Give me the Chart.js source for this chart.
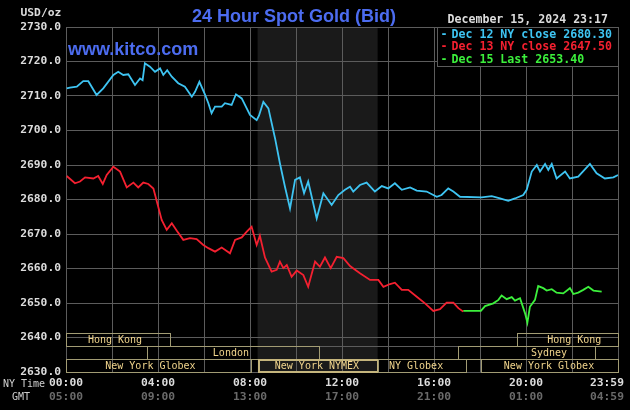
<!DOCTYPE html>
<html lang="en">
  <head>
    <meta charset="UTF-8">
    <title>24 Hour Spot Gold</title>
    <script src="https://cdn.jsdelivr.net/npm/chart.js@4.4.1/dist/chart.umd.min.js"></script>
    <style>
      html, body { margin: 0; padding: 0; background: #000; }
      canvas { display: block; }
    </style>
  </head>
  <body>
    <canvas id="goldChart" width="630" height="410"></canvas>

    <script>
      // hours after midnight NY time, price in USD/oz
      const dec12Time = [0.03, 0.17, 0.47, 0.75, 0.97, 1.33, 1.62, 2.06, 2.27, 2.49, 2.71, 3.0, 3.22, 3.33, 3.43, 3.65, 3.87, 4.09, 4.23, 4.4, 4.6, 4.88, 5.17, 5.47, 5.61, 5.8, 6.04, 6.19, 6.33, 6.48, 6.77, 6.91, 7.2, 7.39, 7.64, 8.0, 8.29, 8.39, 8.58, 8.8, 9.09, 9.3, 9.52, 9.74, 9.96, 10.17, 10.35, 10.53, 10.9, 11.19, 11.55, 11.84, 12.13, 12.35, 12.49, 12.78, 13.07, 13.43, 13.73, 14.01, 14.3, 14.6, 14.96, 15.25, 15.68, 16.12, 16.33, 16.62, 16.84, 17.13, 18.07, 18.51, 18.87, 19.23, 19.52, 19.88, 20.03, 20.25, 20.47, 20.61, 20.83, 20.97, 21.12, 21.33, 21.7, 21.91, 22.27, 22.78, 23.07, 23.43, 23.8, 24.0];
      const dec12Price = [2712.2, 2712.4, 2712.7, 2714.3, 2714.3, 2710.3, 2712.2, 2716.1, 2717.0, 2716.1, 2716.3, 2713.2, 2715.1, 2714.6, 2719.5, 2718.5, 2717.0, 2718.0, 2716.1, 2717.5, 2715.6, 2713.7, 2712.7, 2709.8, 2711.2, 2714.1, 2710.5, 2707.9, 2705.0, 2706.9, 2706.9, 2707.9, 2707.4, 2710.5, 2709.3, 2704.5, 2703.0, 2704.3, 2708.3, 2706.4, 2697.7, 2690.5, 2683.7, 2677.4, 2685.7, 2686.4, 2681.8, 2685.2, 2674.5, 2681.8, 2678.4, 2681.3, 2682.8, 2683.7, 2682.3, 2684.2, 2684.9, 2682.3, 2683.9, 2683.2, 2684.7, 2682.8, 2683.5, 2682.6, 2682.3, 2680.8, 2681.3, 2683.2, 2682.3, 2680.8, 2680.6, 2681.0, 2680.3, 2679.6, 2680.3, 2681.3, 2682.8, 2688.1, 2690.0, 2688.1, 2690.3, 2688.6, 2690.3, 2686.1, 2688.1, 2686.1, 2686.6, 2690.3, 2687.6, 2686.1, 2686.4, 2687.1];

      const dec13Time = [0.03, 0.39, 0.61, 0.83, 1.19, 1.4, 1.6, 1.77, 2.06, 2.35, 2.64, 2.93, 3.14, 3.36, 3.58, 3.8, 3.97, 4.16, 4.38, 4.6, 4.81, 5.1, 5.39, 5.68, 5.97, 6.19, 6.48, 6.77, 7.13, 7.35, 7.64, 7.86, 8.07, 8.29, 8.43, 8.65, 8.94, 9.16, 9.3, 9.45, 9.6, 9.81, 10.03, 10.32, 10.53, 10.83, 11.04, 11.26, 11.51, 11.77, 12.06, 12.35, 12.78, 13.22, 13.58, 13.8, 14.09, 14.3, 14.6, 14.88, 15.25, 15.61, 15.97, 16.26, 16.55, 16.84, 17.06, 17.27];
      const dec13Price = [2686.8, 2684.7, 2685.2, 2686.4, 2686.1, 2686.8, 2684.5, 2687.1, 2689.5, 2688.1, 2683.5, 2684.9, 2683.5, 2684.9, 2684.5, 2683.2, 2678.9, 2674.1, 2671.2, 2673.1, 2671.0, 2668.3, 2668.8, 2668.5, 2666.8, 2665.9, 2664.9, 2666.1, 2664.4, 2668.3, 2669.0, 2670.7, 2672.1, 2666.8, 2669.5, 2663.2, 2659.1, 2659.6, 2662.0, 2660.1, 2661.0, 2657.6, 2659.4, 2658.1, 2654.7, 2662.0, 2660.5, 2663.2, 2660.1, 2663.4, 2663.0, 2660.7, 2658.6, 2656.7, 2656.7, 2654.7, 2655.5, 2655.9, 2653.8, 2653.8, 2651.8, 2649.9, 2647.7, 2648.2, 2650.1, 2650.1, 2648.5, 2647.5];

      const dec15Time = [17.27, 18.04, 18.22, 18.58, 18.8, 18.94, 19.16, 19.38, 19.52, 19.74, 19.96, 20.06, 20.17, 20.39, 20.53, 20.75, 20.9, 21.12, 21.33, 21.62, 21.91, 22.06, 22.27, 22.49, 22.71, 22.93, 23.29];
      const dec15Price = [2647.7, 2647.7, 2649.1, 2649.9, 2650.9, 2652.2, 2651.1, 2651.7, 2650.7, 2651.4, 2647.0, 2644.3, 2648.9, 2650.9, 2654.9, 2654.3, 2653.6, 2654.0, 2653.0, 2652.8, 2654.3, 2652.6, 2653.0, 2653.8, 2654.7, 2653.6, 2653.3];

      const seriesNames = ['Dec 12 NY close 2680.30', 'Dec 13 NY close 2647.50', 'Dec 15 Last 2653.40'];
      const seriesColors = ['#3ec4f2', '#f42030', '#3cf03c'];

      // x tick labels (last one is pulled in so it fits)
      const labelHours = [0, 4, 8, 12, 16, 20, 23.52];
      const nyLabels = ['00:00', '04:00', '08:00', '12:00', '16:00', '20:00', '23:59'];
      const gmtLabels = ['05:00', '09:00', '13:00', '17:00', '21:00', '01:00', '04:59'];

      // trading sessions along the bottom
      const sessionNames = ['Hong Kong', 'Hong Kong', 'London', 'Sydney', 'New York Globex', 'New York NYMEX', 'NY Globex', 'New York Globex'];
      const sessionStart = [0, 19.6, 3.5, 17.05, 0, 8.33, 13.55, 18.05];
      const sessionEnd = [4.5, 24, 11.0, 23.02, 8.05, 13.55, 17.4, 24];
      const sessionRow = [0, 0, 1, 1, 2, 2, 2, 2];
      const sessionLabelAt = [2.13, 22.1, 7.17, 21.0, 3.67, 10.91, 15.22, 21.0];
      const nymexOpen = [8.33, 13.55];

      const GRID = '#5c5c5c';
      const MONO = '"DejaVu Sans Mono", monospace';

      function points(t, p) {
        return t.map((h, i) => ({ x: h, y: p[i] }));
      }

      const kitcoPlugin = {
        id: 'kitco',
        beforeDraw(chart) {
          const c = chart.ctx;
          const a = chart.chartArea;
          const xs = chart.scales.x;
          c.save();
          c.fillStyle = '#000';
          c.fillRect(0, 0, chart.width, chart.height);
          c.fillStyle = '#1a1a1a';
          const s0 = xs.getPixelForValue(nymexOpen[0]);
          const s1 = xs.getPixelForValue(nymexOpen[1]);
          c.fillRect(s0, a.top, s1 - s0, a.bottom - a.top);
          c.restore();
        },
        afterDatasetsDraw(chart) {
          const c = chart.ctx;
          const a = chart.chartArea;
          const xs = chart.scales.x;
          const rowH = 13;
          const rowsTop = a.bottom - rowH * 3;
          c.save();

          // row separators
          c.strokeStyle = GRID;
          c.lineWidth = 1;
          for (let r = 1; r < 3; r++) {
            const y = Math.round(rowsTop + r * rowH) + 0.5;
            c.beginPath();
            c.moveTo(a.left, y);
            c.lineTo(a.right, y);
            c.stroke();
          }

          // session boxes
          c.font = '10px ' + MONO;
          c.textAlign = 'center';
          c.textBaseline = 'middle';
          sessionNames.forEach((name, i) => {
            const x1 = Math.round(xs.getPixelForValue(sessionStart[i]));
            const x2 = Math.round(xs.getPixelForValue(sessionEnd[i]));
            const y1 = Math.round(rowsTop + sessionRow[i] * rowH);
            const nymex = name === 'New York NYMEX';
            c.lineWidth = nymex ? 2 : 1;
            c.strokeStyle = nymex ? '#c4b47c' : '#a29c74';
            const off = nymex ? 1 : 0.5;
            c.strokeRect(x1 + off, y1 + off, x2 - x1 - 2 * off + 1, rowH - 2 * off + 1);
            c.fillStyle = '#f0d48c';
            c.fillText(name, xs.getPixelForValue(sessionLabelAt[i]), y1 + rowH / 2 + 1);
          });

          // legend box
          const lx = 437, ly = a.top, lw = a.right - 437, lh = 39;
          c.fillStyle = '#000';
          c.fillRect(lx, ly, lw, lh);
          c.strokeStyle = GRID;
          c.lineWidth = 1;
          c.strokeRect(lx + 0.5, ly + 0.5, lw, lh);
          c.font = 'bold 11.6px ' + MONO;
          c.textAlign = 'left';
          chart.data.datasets.forEach((ds, i) => {
            const y = ly + 7.5 + i * 12.5;
            c.fillStyle = ds.borderColor;
            c.fillText('-', 440.5, y);
            c.fillText(ds.label, 451.5, y);
          });

          // titles and side texts
          c.textBaseline = 'alphabetic';
          c.fillStyle = '#4c6cf0';
          c.font = 'bold 18px "Liberation Sans", Arial, sans-serif';
          c.textAlign = 'center';
          c.fillText('24 Hour Spot Gold (Bid)', 294, 22);
          c.textAlign = 'left';
          c.fillText('www.kitco.com', 68, 55);

          c.textBaseline = 'middle';
          c.font = 'bold 11.6px ' + MONO;
          c.fillStyle = '#dcdcdc';
          c.fillText('December 15, 2024 23:17', 447.5, 19.5);
          c.font = 'bold 11.3px ' + MONO;
          c.fillText('USD/oz', 20.5, 13.5);
          c.font = '10px ' + MONO;
          c.fillStyle = '#cfcfcf';
          c.fillText('NY Time', 3, 384);
          c.fillText('GMT', 12, 397.5);
          c.restore();
        }
      };

      function labelAxis(labels, color, weight, pad, height) {
        return {
          type: 'linear',
          position: 'bottom',
          min: 0,
          max: 24,
          weight: weight,
          grid: { display: false, drawTicks: false },
          border: { display: false },
          afterBuildTicks(scale) {
            scale.ticks = labelHours.map(v => ({ value: v }));
          },
          ticks: {
            autoSkip: false,
            maxRotation: 0,
            padding: pad,
            color: color,
            font: { family: MONO, size: 11.3, weight: 'bold' },
            callback: (v, i) => labels[i]
          },
          afterFit(scale) {
            scale.height = height;
            scale.paddingLeft = 0;
            scale.paddingRight = 0;
          }
        };
      }

      const ctx = document.getElementById('goldChart').getContext('2d');
      const goldChart = new Chart(ctx, {
        type: 'line',
        data: {
          datasets: [
            { label: seriesNames[0], data: points(dec12Time, dec12Price), borderColor: seriesColors[0] },
            { label: seriesNames[1], data: points(dec13Time, dec13Price), borderColor: seriesColors[1] },
            { label: seriesNames[2], data: points(dec15Time, dec15Price), borderColor: seriesColors[2] }
          ]
        },
        options: {
          responsive: false,
          animation: false,
          parsing: false,
          layout: { padding: { top: 27, right: 12, left: 0, bottom: 0 } },
          elements: {
            line: { borderWidth: 1.8, tension: 0 },
            point: { radius: 0 }
          },
          plugins: {
            legend: { display: false },
            tooltip: { enabled: false }
          },
          scales: {
            x: {
              type: 'linear',
              min: 0,
              max: 24,
              weight: 0,
              ticks: { display: false, stepSize: 2 },
              grid: { color: GRID, drawTicks: false },
              border: { color: GRID },
              afterFit(scale) {
                scale.height = 0;
                scale.paddingLeft = 0;
                scale.paddingRight = 0;
              }
            },
            nyTime: labelAxis(nyLabels, '#dcdcdc', 1, 4, 15),
            gmt: labelAxis(gmtLabels, '#6a6a6a', 2, 3, 23),
            y: {
              min: 2630,
              max: 2730,
              ticks: {
                stepSize: 10,
                padding: 5,
                color: '#dcdcdc',
                font: { family: MONO, size: 11.3, weight: 'bold' },
                callback: v => v.toFixed(1)
              },
              grid: { color: GRID, drawTicks: false },
              border: { color: GRID },
              afterFit(scale) {
                scale.width = 66;
              }
            }
          }
        },
        plugins: [kitcoPlugin]
      });
    </script>
  </body>
</html>
